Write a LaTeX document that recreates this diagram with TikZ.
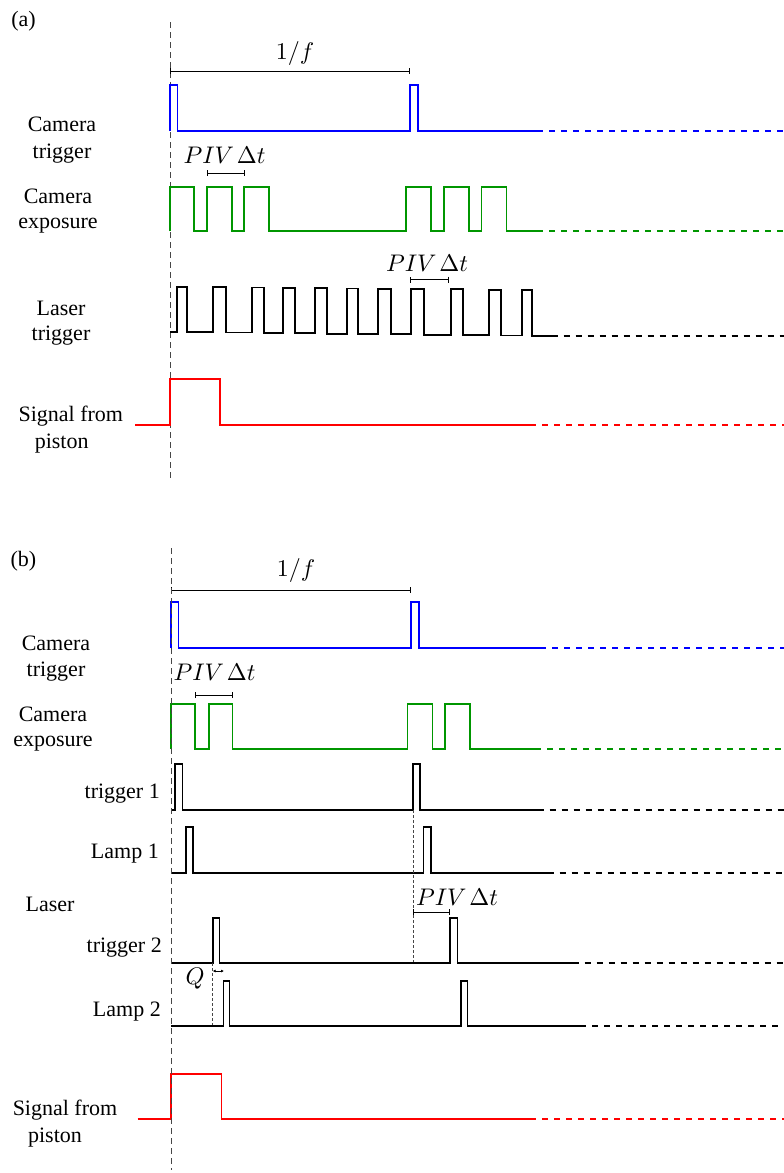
\documentclass[tikz,border=0pt]{standalone}
\usepackage{graphicx}
\usepackage[no-math]{fontspec}
\setmainfont{Liberation Serif}
\usetikzlibrary{arrows.meta}

\definecolor{sigblue}{RGB}{0,0,255}
\definecolor{siggreen}{RGB}{0,150,0}
\definecolor{sigred}{RGB}{255,0,0}
\definecolor{guide}{RGB}{70,70,70}

\newcommand{\bigmath}[1]{\scalebox{2.4}{$#1$}}
\newcommand{\pivdt}{\bigmath{PIV\mkern2mu\Delta t}}

\tikzset{
  sig/.style={line width=1.7pt},
  cont/.style={line width=1.7pt, dash pattern=on 6pt off 6pt},
  tzero/.style={guide, line width=0.8pt, dash pattern=on 6pt off 4pt},
  refline/.style={guide, line width=0.8pt, dash pattern=on 2.5pt off 2.5pt},
  interval/.style={line width=0.9pt, {Bar[width=6pt]}-{Bar[width=6pt]}},
  lbl/.style={font=\fontsize{22}{26}\selectfont, inner sep=0pt, anchor=base},
  rlbl/.style={lbl, anchor=base east},
  mth/.style={inner sep=0pt, anchor=base},
}

\begin{document}
\begin{tikzpicture}[x=1pt, y=-1pt]
\useasboundingbox (0,0) rectangle (784,1173);

% ---------------- panel (a) ----------------
\node[lbl] (tagA) at (23.5,26) {(a)};
\draw[tzero] (170,22) -- (170,480);

% period
\draw[interval] (170,71) -- (410,71);
\node[mth, anchor=center] (perA) at (295,53) {\bigmath{1/f}};

% camera trigger
\node[lbl] (camtrgA1) at (62,131.7) {Camera};
\node[lbl] (camtrgA2) at (62,158) {trigger};
\draw[sig, sigblue] (170,131) -- (170,85) -- (177.5,85) -- (177.5,131) -- (410,131)
  -- (410,85) -- (418,85) -- (418,131) -- (537,131);
\draw[cont, sigblue] (537,131) -- (784,131);

% camera exposure
\node[mth] (dtA1) at (224.5,163.3) {\pivdt};
\draw[interval] (206.7,173) -- (244.5,173);
\node[lbl] (camexpA1) at (58,203.3) {Camera};
\node[lbl] (camexpA2) at (58,228) {exposure};
\draw[sig, siggreen] (170,231) -- (170,187) -- (194,187) -- (194,231) -- (206.7,231)
  -- (206.7,187) -- (232,187) -- (232,231) -- (244.3,231) -- (244.3,187)
  -- (269.3,187) -- (269.3,231) -- (406,231) -- (406,187) -- (431,187)
  -- (431,231) -- (444,231) -- (444,187) -- (469,187) -- (469,231)
  -- (481.5,231) -- (481.5,187) -- (506.5,187) -- (506.5,231) -- (537,231);
\draw[cont, siggreen] (537,231) -- (784,231);

% laser trigger
\node[mth] (dtA2) at (427,271.7) {\pivdt};
\draw[interval] (410,279.5) -- (448.4,279.5);
\node[lbl] (lasA1) at (61,315) {Laser};
\node[lbl] (lasA2) at (61,340) {trigger};
\draw[sig] (170,331.7) -- (176.7,331.7)
  -- (176.7,286.7) -- (186.7,286.7) -- (186.7,332.3) -- (213.3,332.3)
  -- (213.3,287.0) -- (226.0,287.0) -- (226.0,332.6) -- (252.0,332.6)
  -- (252.0,287.4) -- (264.3,287.4) -- (264.3,333.0) -- (283.3,333.0)
  -- (283.3,287.7) -- (295.0,287.7) -- (295.0,333.3) -- (315.0,333.3)
  -- (315.0,288.0) -- (326.7,288.0) -- (326.7,333.7) -- (347.3,333.7)
  -- (347.3,288.4) -- (358.3,288.4) -- (358.3,334.0) -- (378.3,334.0)
  -- (378.3,288.7) -- (391.0,288.7) -- (391.0,334.3) -- (411.0,334.3)
  -- (411.0,289.0) -- (424.3,289.0) -- (424.3,334.7) -- (450.7,334.7)
  -- (450.7,289.3) -- (462.7,289.3) -- (462.7,335.0) -- (489.0,335.0)
  -- (489.0,289.7) -- (501.0,289.7) -- (501.0,335.4) -- (521.7,335.4)
  -- (521.7,290.0) -- (532.3,290.0) -- (532.3,335.7) -- (551.7,335.7);
\draw[cont] (551.7,335.7) -- (784,335.7);

% piston signal
\node[lbl] (pisA1) at (70.8,421.7) {Signal from};
\node[lbl] (pisA2) at (61.7,448) {piston};
\draw[sig, sigred] (135,425) -- (170,425) -- (170,379.3) -- (220,379.3) -- (220,425) -- (530,425);
\draw[cont, sigred] (530,425) -- (784,425);

% ---------------- panel (b) ----------------
\node[lbl] (tagB) at (23.5,566) {(b)};

% period
\draw[interval] (171,590) -- (411,590);
\node[mth, anchor=center] (perB) at (296,570) {\bigmath{1/f}};

% camera trigger
\node[lbl] (camtrgB1) at (56,650) {Camera};
\node[lbl] (camtrgB2) at (56,676) {trigger};
\draw[sig, sigblue] (171,648) -- (171,602) -- (178.5,602) -- (178.5,648) -- (411,648)
  -- (411,602) -- (419,602) -- (419,648) -- (540,648);
\draw[cont, sigblue] (540,648) -- (784,648);

% camera exposure
\node[mth] (dtB1) at (214.5,680) {\pivdt};
\draw[interval] (195,695) -- (232.5,695);
\node[lbl] (camexpB1) at (53,721.7) {Camera};
\node[lbl] (camexpB2) at (53,746) {exposure};
\draw[sig, siggreen] (171,749) -- (171,704) -- (195,704) -- (195,749) -- (209,749)
  -- (209,704) -- (232.5,704) -- (232.5,749) -- (407.5,749) -- (407.5,704)
  -- (432.5,704) -- (432.5,749) -- (445,749) -- (445,704) -- (470,704)
  -- (470,749) -- (535,749);
\draw[cont, siggreen] (535,749) -- (784,749);

% laser: trigger 1
\node[rlbl] (trg1) at (160,798) {trigger 1};
\draw[sig] (171,810) -- (175,810) -- (175,764) -- (182.5,764) -- (182.5,810) -- (413,810)
  -- (413,764) -- (420,764) -- (420,810) -- (537.5,810);
\draw[cont] (537.5,810) -- (784,810);

% laser: lamp 1
\node[rlbl] (lmp1) at (159,858) {Lamp 1};
\draw[sig] (171,873) -- (186,873) -- (186,827) -- (193,827) -- (193,873) -- (423.5,873)
  -- (423.5,827) -- (431,827) -- (431,873) -- (547.5,873);
\draw[cont] (547.5,873) -- (784,873);

\node[lbl] (lasB) at (50,911.7) {Laser};

% laser: trigger 2
\draw[refline] (413,810) -- (413,963);
\node[mth] (dtB2) at (457,905) {\pivdt};
\draw[interval] (413,912) -- (450,912);
\node[rlbl] (trg2) at (162,952.5) {trigger 2};
\draw[sig] (171,963) -- (212.7,963) -- (212.7,918) -- (219.5,918) -- (219.5,963) -- (450,963)
  -- (450,918) -- (457.5,918) -- (457.5,963) -- (572.5,963);
\draw[cont] (572.5,963) -- (784,963);

% Q delay
\draw[refline] (212.7,963) -- (212.7,1026);
\draw[line width=0.7pt, {Latex[length=3pt,width=3pt]}-{Latex[length=3pt,width=3pt]}] (212.7,971) -- (224,971);
\node[mth] (qdel) at (195,984) {\bigmath{Q}};

% laser: lamp 2
\node[rlbl] (lmp2) at (161,1016) {Lamp 2};
\draw[sig] (171,1026) -- (223.5,1026) -- (223.5,981) -- (229.5,981) -- (229.5,1026) -- (461,1026)
  -- (461,981) -- (467.5,981) -- (467.5,1026) -- (580,1026);
\draw[cont] (580,1026) -- (784,1026);

% piston signal
\node[lbl] (pisB1) at (65,1115) {Signal from};
\node[lbl] (pisB2) at (55,1142) {piston};
\draw[sig, sigred] (137.5,1119) -- (171,1119) -- (171,1074) -- (221.5,1074) -- (221.5,1119) -- (530,1119);
\draw[cont, sigred] (530,1119) -- (784,1119);

\draw[tzero] (171.5,548) -- (171.5,1170);
\end{tikzpicture}
\end{document}
